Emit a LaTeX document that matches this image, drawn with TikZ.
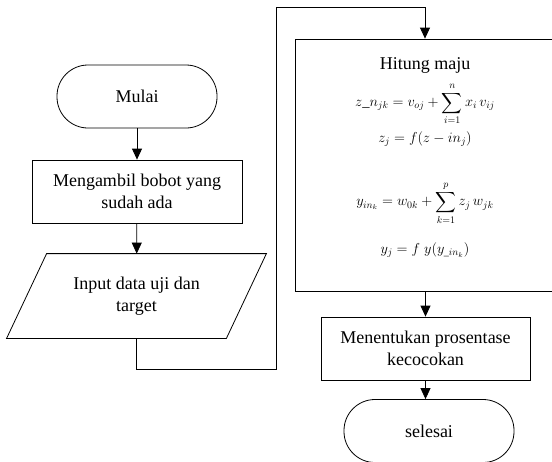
\documentclass[tikz,border=0pt]{standalone}
\usepackage{amsmath}
\usepackage{fontspec}
\setmainfont{Liberation Serif}
\usetikzlibrary{arrows.meta,calc}
\begin{document}
\begin{tikzpicture}[x=1pt,y=-1pt,
  line width=0.8pt,
  every node/.style={font=\fontsize{18}{21.5}\selectfont, align=center, inner sep=0pt},
  term/.style={draw, rounded corners=31pt, minimum width=160pt, minimum height=63pt},
  proc/.style={draw, minimum width=210pt, minimum height=63pt},
  math/.style={font=\fontsize{14.5}{17}\selectfont},
  arr/.style={-{Triangle[length=11pt,width=10pt]}}]
\useasboundingbox (0,0) rectangle (552,461);
\clip (0,0) rectangle (552,461);
\node[term] (mulai) at (137,96.5) {Mulai};
\node[proc] (ambil) at (137,191.5) {Mengambil bobot yang\\sudah ada};
\node[minimum width=219pt, minimum height=84pt] (inp) at (136.5,296) {Input data uji dan\\target};
\draw ($(inp.north west)+(20,0)$) -- ($(inp.north east)+(20,0)$) -- ($(inp.south east)+(-20,0)$) -- ($(inp.south west)+(-20,0)$) -- cycle;
\coordinate (c1) at (276,7);
\node[draw, minimum width=260pt, minimum height=252pt] (big) at (425,165) {};
\node at (425,65) {Hitung maju};
\node[math] (f1) at (425,104) {$\displaystyle z\_n_{jk} = v_{oj} + \sum_{i=1}^{n} x_i\, v_{ij}$};
\node[math] (f2) at (425,139) {$z_j = f(z - in_j)$};
\node[math] (f3) at (425,203) {$\displaystyle y_{in_k} = w_{0k} + \sum_{k=1}^{p} z_j\, w_{jk}$};
\node[math] (f4) at (425,250) {$y_j = f\; y(y_{\_in_k})$};
\node[proc, minimum width=209pt] (tentu) at (425.5,348.5) {Menentukan prosentase\\kecocokan};
\node[term, minimum width=170pt] (selesai) at (429,431) {selesai};
\draw[arr] (mulai) -- (ambil);
\draw[arr] (ambil) -- (inp);
\draw[arr] (inp.south) -- ++(0,31) -| (c1) -| (big.north);
\draw[arr] (big.south -| tentu.north) -- (tentu.north);
\draw[arr] (tentu.south) -- (tentu.south |- selesai.north);
\end{tikzpicture}
\end{document}
